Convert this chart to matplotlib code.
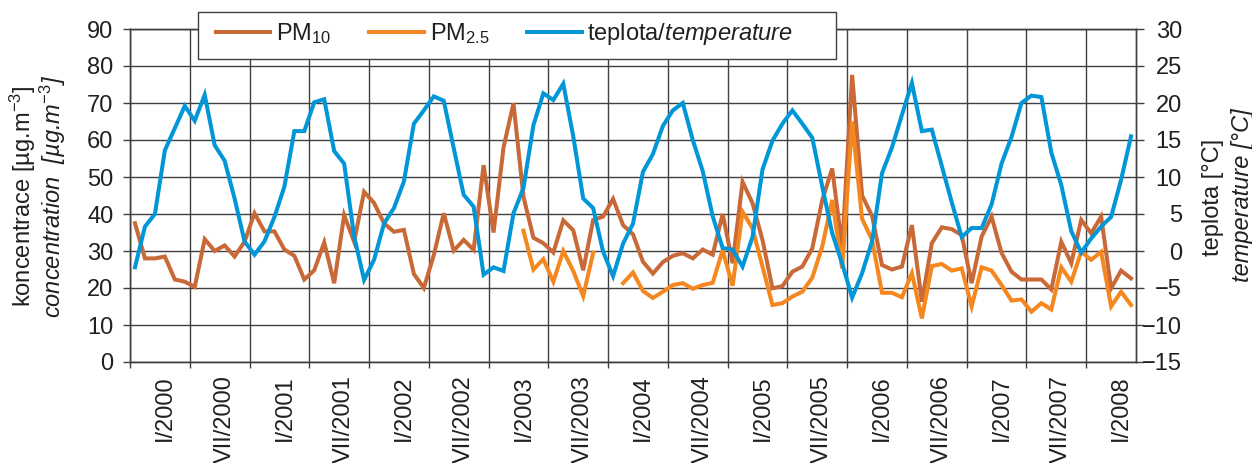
import numpy as np
import matplotlib.pyplot as plt
from matplotlib.patches import Rectangle
from matplotlib.transforms import ScaledTranslation

plt.rcParams['font.family'] = ['Liberation Sans', 'DejaVu Sans']
plt.rcParams['mathtext.fontset'] = 'custom'
plt.rcParams['mathtext.rm'] = 'Liberation Sans'
plt.rcParams['mathtext.it'] = 'Liberation Sans:italic'
plt.rcParams['mathtext.bf'] = 'Liberation Sans:bold'
plt.rcParams['font.size'] = 17

nan = np.nan

# mesicni prumery I/2000 - V/2008
pm10 = [37.5, 28, 28, 28.5, 22.3, 21.7, 20.3, 33.2, 30, 31.5,
        28.5, 32.5, 40.2, 35.3, 35.3, 30.4, 28.7, 22.3, 24.8, 32.3,
        21.3, 39.7, 32.5, 46, 43, 37.5, 35.2, 35.7, 23.8, 20,
        28.9, 40.2, 30.1, 33, 30.3, 53.2, 35, 58, 69.9, 44.7,
        33.6, 32.1, 29.6, 38.3, 35.6, 24.8, 38.4, 39.3, 44.1, 37,
        34.5, 27.1, 23.9, 27, 28.7, 29.4, 28, 30.4, 29, 40,
        26.7, 48.7, 42.9, 33, 19.9, 20.5, 24.4, 25.8, 30.7, 43.8,
        52.3, 31, 77.6, 45, 39.5, 26.2, 25, 25.8, 37, 16.3,
        32.1, 36.4, 35.9, 34.3, 21.3, 33.9, 39.3, 29.5, 24.4, 22.3,
        22.3, 22.3, 19.6, 32.5, 26.7, 38.4, 34.8, 39.3, 19.9, 24.7,
        22.6]

pm25 = [nan] * 39 + [
        35.5, 25, 27.8, 21.7, 30, 24.6, 17.8, 29.5, nan, nan,
        21.3, 24.2, 19.2, 17.3, 19, 20.8, 21.3, 19.8, 20.8, 21.4,
        30.2, 20.6, 40.6, 36.1, 25.8, 15.4, 15.9, 17.7, 19, 22.8,
        31.2, 43.8, 25.3, 65, 38.7, 33, 18.7, 18.7, 17.5, 24,
        11.8, 25.9, 26.5, 24.7, 25.3, 15, 25.6, 24.7, 20.8, 16.6,
        16.9, 13.6, 15.9, 14.2, 25.6, 21.7, 29.8, 27.6, 29.8, 15,
        19, 15.4]

teplota = [-2.2, 3.3, 5.0, 13.6, 16.6, 19.6, 17.6, 21.1, 14.3, 12.2,
           7.1, 1.3, -0.5, 1.3, 4.6, 8.7, 16.2, 16.2, 20.1, 20.5,
           13.5, 11.8, 2.0, -3.9, -1.2, 3.7, 5.8, 9.4, 17.2, 19.0,
           20.9, 20.3, 13.9, 7.6, 6.0, -3.2, -2.2, -2.7, 5.1, 8.5,
           17.0, 21.3, 20.4, 22.6, 15.5, 7.1, 5.8, -0.1, -3.4, 1.0,
           3.7, 10.7, 13.1, 16.9, 19.0, 20.0, 15.0, 10.8, 4.7, 0.4,
           0.2, -2.1, 1.9, 11.0, 14.9, 17.2, 19.0, 17.2, 15.3, 8.7,
           2.4, -1.7, -6.3, -3.0, 1.3, 10.5, 14.0, 18.4, 22.7, 16.2,
           16.4, 11.5, 6.6, 1.9, 3.1, 3.1, 6.3, 11.8, 15.4, 20.0,
           21.0, 20.8, 13.3, 8.9, 2.7, -0.2, 1.7, 3.3, 4.6, 9.6,
           15.5]

obdobi = ['I/2000', 'VII/2000', 'I/2001', 'VII/2001', 'I/2002', 'VII/2002',
          'I/2003', 'VII/2003', 'I/2004', 'VII/2004', 'I/2005', 'VII/2005',
          'I/2006', 'VII/2006', 'I/2007', 'VII/2007', 'I/2008']

c_pm10 = '#C86937'
c_pm25 = '#F5871F'
c_temp = '#0096D7'
c_grid = '#404040'
c_text = '#231F20'

n = len(pm10)
x = np.arange(n) + 0.5

W, H = 1252, 463
fig = plt.figure(figsize=(W / 100, H / 100), dpi=100)
ax = fig.add_axes([130 / W, 1 - 362 / H, 1006 / W, 333 / H])

l1, = ax.plot(x, pm10, color=c_pm10, lw=2.9, solid_joinstyle='miter', zorder=3)
l2, = ax.plot(x, pm25, color=c_pm25, lw=2.9, solid_joinstyle='miter', zorder=4)

ax.set_xlim(0, n)
ax.set_ylim(0, 90)
ax.set_yticks(np.arange(0, 91, 10))
ax.set_xticks(np.arange(0, n, 6))
ax.set_xticklabels([])
ax.set_xticks(np.arange(3, n, 6), minor=True)
ax.set_xticklabels(obdobi, minor=True, rotation=90)

ax.grid(axis='y', color=c_grid, lw=1.0)
ax.grid(axis='x', which='major', color=c_grid, lw=1.0)
ax.set_axisbelow(True)

ax.tick_params(axis='y', direction='out', length=5, width=1, color=c_grid,
               pad=7, labelcolor=c_text)
ax.tick_params(axis='x', which='major', direction='out', length=4.3,
               width=1, color=c_grid)
ax.tick_params(axis='x', which='minor', length=0, pad=9.5, labelcolor=c_text)
# popisky obdobi trochu doprava
posun = ScaledTranslation(5 / 100, 0, fig.dpi_scale_trans)
for lbl in ax.xaxis.get_minorticklabels():
    lbl.set_transform(lbl.get_transform() + posun)
for s in ax.spines.values():
    s.set_color(c_grid)
    s.set_linewidth(1.0)

ax2 = ax.twinx()
l3, = ax2.plot(x, teplota, color=c_temp, lw=2.9, solid_joinstyle='miter')
ax2.set_ylim(-15, 30)
ax2.set_yticks(np.arange(-15, 31, 5))
ax2.tick_params(axis='y', direction='out', length=5.5, width=1, color=c_grid,
                pad=27.5, labelcolor=c_text)
for lbl in ax2.get_yticklabels():
    lbl.set_horizontalalignment('right')
for s in ax2.spines.values():
    s.set_color(c_grid)
    s.set_linewidth(1.0)

# popisky os (cesky / anglicky)
fig.text(22.5 / W, 1 - 196 / H, 'koncentrace [µg.m$^{-3}$]', rotation=90,
         ha='center', va='center', color=c_text)
fig.text(53 / W, 1 - 196 / H, 'concentration  [µg.m$^{\\mathit{-3}}$]',
         rotation=90, ha='center', va='center', style='italic', color=c_text)
fig.text(1213 / W, 1 - 197 / H, 'teplota [°C]', rotation=90,
         ha='center', va='center', color=c_text)
fig.text(1242 / W, 1 - 195 / H, 'temperature [°C]', rotation=90,
         ha='center', va='center', style='italic', color=c_text)

# ramecek legendy zvlast, aby mel sirku jako v puvodnim grafu
ramecek = Rectangle((198 / W, 1 - 59 / H), 638 / W, 47 / H,
                    transform=fig.transFigure, facecolor='white',
                    edgecolor=c_grid, lw=1.0, zorder=4)
fig.patches.append(ramecek)

leg = fig.legend([l1, l2, l3],
                 ['PM$_{10}$', 'PM$_{2.5}$', 'teplota/$\\mathit{temperature}$'],
                 loc='center left', ncol=3,
                 bbox_to_anchor=(216 / W, 1 - 34 / H),
                 frameon=False, handlelength=2.3, handletextpad=0.25,
                 borderaxespad=0, borderpad=0, columnspacing=1.6)
leg.set_zorder(5)
for t in leg.get_texts():
    t.set_color(c_text)

fig.savefig('out.png', dpi=100)
